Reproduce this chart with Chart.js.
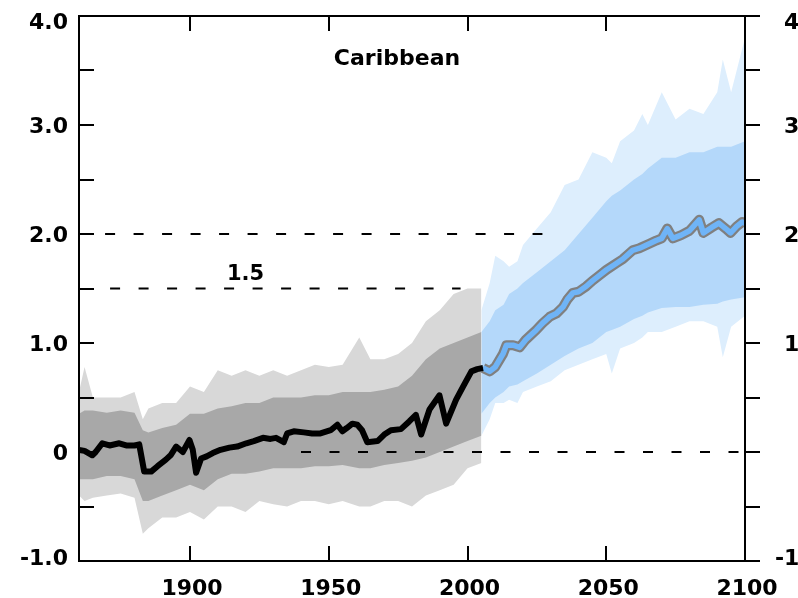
<!DOCTYPE html>
<html>
<head>
<meta charset="utf-8">
<script src="https://cdn.jsdelivr.net/npm/chart.js@4.4.1/dist/chart.umd.min.js"></script>
<style>
  html, body { margin: 0; padding: 0; background: #fff; overflow: hidden; }
</style>
</head>
<body>
<canvas id="chart" width="798" height="598"></canvas>
<script>
// observed / historical ensemble mean (black)
const obsYears = [1860,1862,1864.8,1866,1868.4,1871,1874.5,1877,1880,1881.7,1883.5,1886,1888.3,1891.3,1893,1895,1897.4,1899.8,1901,1902.2,1904,1906,1908.2,1911,1914.2,1917,1920.3,1923,1926.3,1929,1931,1933.8,1935,1937.4,1941,1944,1947,1950.7,1953.1,1954.9,1956.5,1958.5,1960.3,1962,1963.9,1967.6,1970,1972.4,1976,1979,1981.4,1983.3,1986.3,1989.9,1992.3,1995.9,1998.4,2001.4,2003.5,2005.6];
const obsValues = [0.02,0.01,-0.03,0.0,0.08,0.06,0.08,0.06,0.06,0.07,-0.18,-0.18,-0.13,-0.07,-0.03,0.05,0.0,0.11,0.02,-0.19,-0.06,-0.04,-0.01,0.02,0.04,0.05,0.08,0.1,0.13,0.12,0.13,0.09,0.17,0.19,0.18,0.17,0.17,0.2,0.25,0.19,0.22,0.26,0.25,0.2,0.09,0.1,0.16,0.2,0.21,0.28,0.34,0.16,0.39,0.52,0.26,0.48,0.6,0.74,0.76,0.77];

// projected ensemble mean (blue with grey edge)
const projYears = [2005.6,2008,2010,2012.8,2014,2016.4,2018.8,2021,2024.8,2027,2029.6,2032,2034.4,2036,2038,2040,2042.8,2045,2048,2050,2053.6,2056,2059.5,2062,2065.5,2068,2070,2072,2074,2077,2080,2083.5,2085,2088,2090.6,2093,2094.8,2097,2099,2100];
const projValues = [0.77,0.74,0.78,0.9,0.98,0.98,0.96,1.03,1.12,1.18,1.24,1.27,1.33,1.4,1.46,1.47,1.52,1.57,1.63,1.67,1.73,1.77,1.85,1.87,1.91,1.94,1.96,2.05,1.96,1.99,2.03,2.13,2.01,2.06,2.1,2.05,2.01,2.07,2.11,2.1];

// historical ensemble spread (grey)
const histBandYears = [1860,1862,1865,1870,1875,1880,1883,1885,1890,1895,1900,1905,1910,1915,1920,1925,1930,1935,1940,1945,1950,1955,1961,1965,1970,1975,1980,1985,1990,1995,2000,2005];
const histOuterHi = [0.55,0.78,0.5,0.5,0.5,0.55,0.3,0.4,0.45,0.45,0.6,0.55,0.75,0.7,0.75,0.7,0.75,0.7,0.75,0.8,0.78,0.8,1.05,0.85,0.85,0.9,1.0,1.2,1.3,1.45,1.5,1.5];
const histOuterLo = [-0.4,-0.45,-0.42,-0.4,-0.38,-0.42,-0.75,-0.7,-0.6,-0.6,-0.55,-0.62,-0.5,-0.5,-0.55,-0.45,-0.48,-0.5,-0.45,-0.45,-0.48,-0.45,-0.5,-0.5,-0.45,-0.45,-0.5,-0.4,-0.35,-0.3,-0.15,-0.1];
const histCoreHi = [0.35,0.38,0.38,0.36,0.38,0.36,0.2,0.18,0.22,0.25,0.35,0.35,0.4,0.42,0.45,0.45,0.5,0.5,0.5,0.52,0.52,0.55,0.55,0.55,0.57,0.6,0.7,0.85,0.95,1.0,1.05,1.1];
const histCoreLo = [-0.25,-0.25,-0.25,-0.22,-0.22,-0.25,-0.45,-0.45,-0.4,-0.35,-0.3,-0.35,-0.25,-0.2,-0.2,-0.18,-0.15,-0.15,-0.15,-0.13,-0.13,-0.12,-0.15,-0.15,-0.12,-0.1,-0.08,-0.05,0.0,0.05,0.1,0.15];

// projected ensemble spread (light blue)
const projBandYears = [2005,2008,2010,2013,2015,2018,2020,2025,2030,2035,2040,2045,2050,2052,2055,2060,2063,2065,2070,2075,2080,2085,2090,2092,2095,2100];
const projOuterHi = [1.3,1.55,1.8,1.75,1.7,1.75,1.9,2.05,2.2,2.45,2.5,2.75,2.7,2.65,2.85,2.95,3.1,3.0,3.3,3.05,3.15,3.1,3.3,3.6,3.3,3.8];
const projOuterLo = [0.15,0.3,0.45,0.45,0.48,0.45,0.55,0.6,0.65,0.75,0.8,0.85,0.9,0.72,0.95,1.0,1.05,1.1,1.1,1.15,1.2,1.2,1.15,0.87,1.15,1.25];
const projCoreHi = [1.1,1.2,1.3,1.35,1.45,1.5,1.55,1.65,1.75,1.85,2.0,2.15,2.3,2.35,2.4,2.5,2.55,2.6,2.7,2.7,2.75,2.75,2.8,2.8,2.8,2.85];
const projCoreLo = [0.35,0.45,0.5,0.55,0.6,0.62,0.65,0.72,0.8,0.88,0.95,1.0,1.1,1.12,1.15,1.22,1.25,1.28,1.32,1.33,1.33,1.35,1.36,1.38,1.4,1.42];

// dashed reference levels
const refValues = [0, 1.5, 2.0];
const refStart = [1940, 1871.2, 1869.4];
const refEnd = [2100, 1997.5, 2027];

// axes
const yTicks = [-1, -0.5, 0, 0.5, 1, 1.5, 2, 2.5, 3, 3.5, 4];
const yLabels = ['-1.0', '0', '1.0', '2.0', '3.0', '4.0'];
const yLabelValues = [-1, 0, 1, 2, 3, 4];
const xTicks = [1900, 1950, 2000, 2050, 2100];
const title = 'Caribbean';
const refLabel = '1.5';

const pts = (xs, ys) => xs.map((x, i) => ({ x, y: ys[i] }));

const band = (xs, hi, lo, color, order) => [
    { data: pts(xs, hi), fill: '+1', backgroundColor: color, borderWidth: 0, order },
    { data: pts(xs, lo), fill: false, borderWidth: 0, order },
];

const datasets = [
    ...band(histBandYears, histOuterHi, histOuterLo, '#d8d8d8', 9),
    ...band(histBandYears, histCoreHi, histCoreLo, '#a8a8a8', 8),
    ...band(projBandYears, projOuterHi, projOuterLo, '#ddeefd', 9),
    ...band(projBandYears, projCoreHi, projCoreLo, '#b4d8fa', 8),
    ...refValues.map((v, i) => ({
        data: [{ x: refStart[i], y: v }, { x: refEnd[i], y: v }],
        borderColor: '#000',
        borderWidth: 2,
        borderDash: [10, 18.5],
        fill: false,
        order: 5,
    })),
    { data: pts(projYears, projValues), borderColor: '#808080', borderWidth: 10, fill: false, order: 2, borderJoinStyle: 'round' },
    { data: pts(projYears, projValues), borderColor: '#6fb4f7', borderWidth: 5.5, fill: false, order: 1, borderJoinStyle: 'round' },
    { data: pts(obsYears, obsValues), borderColor: '#000', borderWidth: 6, fill: false, order: 0, borderJoinStyle: 'round' },
];

const FONT = 'bold 22px "DejaVu Sans", Verdana, sans-serif';

const frame = {
    id: 'frame',
    afterDraw(chart) {
        const { ctx, chartArea: a, scales: { x, y } } = chart;
        ctx.save();
        ctx.strokeStyle = '#000';
        ctx.lineWidth = 2;
        ctx.strokeRect(a.left, a.top, a.right - a.left, a.bottom - a.top);

        ctx.beginPath();
        yTicks.forEach(v => {
            const py = Math.round(y.getPixelForValue(v));
            ctx.moveTo(a.left, py); ctx.lineTo(a.left + 15, py);   // left, inward
            ctx.moveTo(a.right, py); ctx.lineTo(a.right + 15, py); // right, outward
        });
        xTicks.forEach(v => {
            const px = Math.round(x.getPixelForValue(v));
            ctx.moveTo(px, a.top); ctx.lineTo(px, a.top + 15);
            ctx.moveTo(px, a.bottom); ctx.lineTo(px, a.bottom - 15);
        });
        ctx.stroke();

        ctx.fillStyle = '#000';
        ctx.font = FONT;
        ctx.textBaseline = 'alphabetic';
        yLabelValues.forEach((v, i) => {
            let py = y.getPixelForValue(v) + 8;
            if (v === 4) py += 5;
            if (v === -1) py -= 4;
            ctx.textAlign = 'right';
            ctx.fillText(yLabels[i], a.left - 11, py);
            ctx.fillText(yLabels[i], a.right + 78, py); // clipped by the page edge
        });
        ctx.textAlign = 'center';
        xTicks.forEach(v => ctx.fillText(String(v), x.getPixelForValue(v) + 2, a.bottom + 34));

        ctx.fillText(title, x.getPixelForValue(1974.6), y.getPixelForValue(3.55));
        ctx.font = 'bold 21px "DejaVu Sans", Verdana, sans-serif';
        ctx.fillText(refLabel, x.getPixelForValue(1920), y.getPixelForValue(1.58));
        ctx.restore();
    },
};

new Chart(document.getElementById('chart'), {
    type: 'line',
    data: { datasets },
    options: {
        responsive: false,
        animation: false,
        layout: { padding: { left: 79, right: 53, top: 16, bottom: 37 } },
        elements: {
            point: { radius: 0 },
            line: { tension: 0 },
        },
        plugins: {
            legend: { display: false },
            tooltip: { enabled: false },
        },
        scales: {
            x: { type: 'linear', min: 1860, max: 2100, display: false },
            y: { type: 'linear', min: -1, max: 4, display: false },
        },
    },
    plugins: [frame],
});
</script>
</body>
</html>
